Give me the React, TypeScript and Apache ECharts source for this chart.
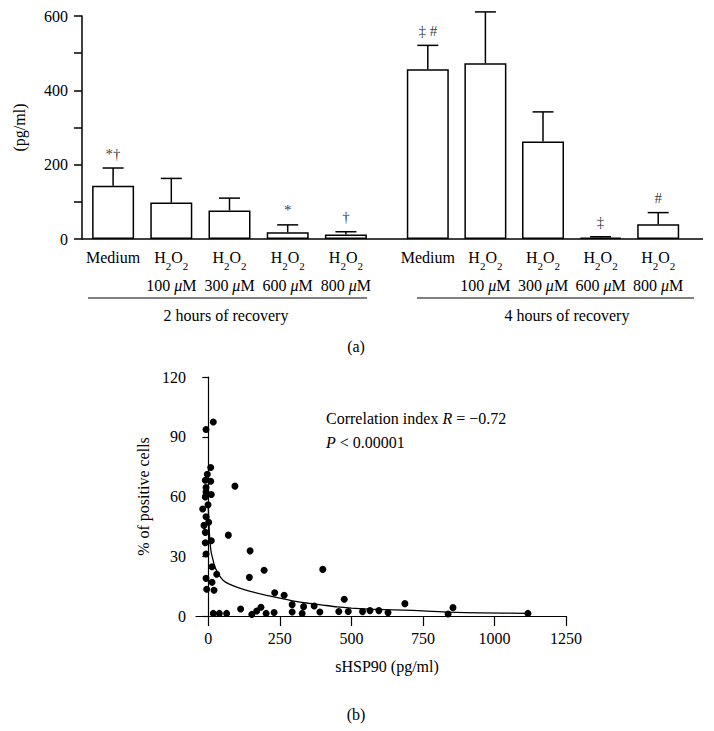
import React, { useEffect, useRef } from 'react';
import * as echarts from 'echarts';

const FONT = 'Liberation Serif, DejaVu Serif, serif';

// ---- Panel (a) ----
const treatments = ['Medium', 'H2O2 100 μM', 'H2O2 300 μM', 'H2O2 600 μM', 'H2O2 800 μM'];
const mean2h = [143, 98, 77, 18, 12];
const upper2h = [191, 163, 110, 38, 19.5];
const marks2h = ['*†', '', '', '*', '†'];
const mean4h = [457, 473, 262, 4, 40];
const upper4h = [521, 611, 342, 6, 71];
const marks4h = ['‡ #', '', '', '‡', '#'];
const groupLabels = ['2 hours of recovery', '4 hours of recovery'];
const panelLabels = ['(a)', '(b)'];

// ---- Panel (b) ----
const scatterX = [
  -8, 17.5, 8.4, -3.5, -10.5, 8.4, -8, -8, -10.5, 10.5, 93, -1, -19.6, -8, 1.4, -15, -10.5, 70, -10.5, 10.5,
  -8, 146, 13, 29.4, 195, 143.5, -8, 13, -5.6, 20, 232, 17.5, 38.5, 64, 113, 152, 169, 184, 202, 230,
  265, 400, 293, 333, 370, 475, 293, 328, 390, 456, 489, 539, 565, 596, 628, 687, 855, 838, 1117,
];
const scatterY = [
  93.6, 97.4, 74.6, 71.2, 68.2, 67.7, 64.5, 62.3, 59.8, 61, 65.2, 55.8, 53.7, 49.8, 47.1, 45.5, 42, 40.6, 36.8, 37.8,
  31.1, 32.7, 24.7, 21, 23, 19.4, 18.9, 16.9, 13.4, 12.9, 11.7, 1.3, 1.3, 1.3, 3.5, 0.8, 2.5, 4.4, 1.3, 1.8,
  10.4, 23.4, 5.7, 4.7, 5, 8.4, 2, 1.3, 2, 2.3, 2.3, 2.2, 2.7, 2.7, 1.7, 6.2, 4.2, 1.0, 1.3,
];
const curveX = [0, 3, 6, 10, 15, 22, 30, 45, 60, 90, 120, 150, 200, 250, 300, 350, 400, 450, 500, 560, 620, 680, 750, 840, 950, 1118];
const curveY = [54, 44, 37, 32, 29, 25, 22.5, 19, 17, 15, 13.5, 12.2, 10.5, 9, 7.5, 6.4, 5.5, 4.6, 4, 3.5, 3.2, 3, 2.6, 1.9, 1.6, 1.3];
const xTicksB = [0, 250, 500, 750, 1000, 1250];
const statLines = ['Correlation index {i|R} = −0.72', '{i|P} < 0.00001'];

const catFormatter = (v: string) => {
  if (v.startsWith('H2O2')) {
    const rest = v.slice(5).replace('μ', '{i|μ}');
    return 'H{s|2}O{s|2}\n' + rest;
  }
  return v;
};

const errorSeries = (axisIdx: number, means: number[], upper: number[]) => ({
  type: 'custom',
  xAxisIndex: axisIdx,
  yAxisIndex: axisIdx,
  z: 5,
  data: means.map((m, i) => [i, m, upper[i]]),
  renderItem: (params: any, api: any) => {
    const i = api.value(0);
    const a = api.coord([i, api.value(1)]);
    const b = api.coord([i, api.value(2)]);
    return {
      type: 'group',
      children: [
        { type: 'line', shape: { x1: a[0], y1: a[1], x2: b[0], y2: b[1] }, style: { stroke: '#000', lineWidth: 1.5 } },
        { type: 'line', shape: { x1: b[0] - 10.5, y1: b[1], x2: b[0] + 10.5, y2: b[1] }, style: { stroke: '#000', lineWidth: 1.5 } },
      ],
    };
  },
});

const markSeries = (axisIdx: number, upper: number[], marks: string[]) => ({
  type: 'scatter',
  xAxisIndex: axisIdx,
  yAxisIndex: axisIdx,
  symbolSize: 0,
  z: 6,
  silent: true,
  data: upper.map((u, i) => [i, u]),
  label: {
    show: true,
    position: 'top',
    distance: 7,
    color: '#000',
    fontFamily: FONT,
    fontSize: 15,
    formatter: (p: any) => marks[p.dataIndex],
  },
});

const catAxis = (gridIndex: number) => ({
  type: 'category',
  gridIndex,
  data: treatments,
  axisLine: { show: false },
  axisTick: { show: false },
  axisLabel: {
    interval: 0,
    margin: 4,
    color: '#000',
    fontFamily: FONT,
    fontSize: 16,
    lineHeight: 28,
    verticalAlign: 'top',
    formatter: catFormatter,
    rich: {
      s: { fontSize: 11, lineHeight: 20, verticalAlign: 'bottom', fontFamily: FONT, color: '#000' },
      i: { fontSize: 16, lineHeight: 28, fontStyle: 'italic', fontFamily: FONT, color: '#000' },
    },
  },
});

export default function App() {
  const ref = useRef<HTMLDivElement>(null);
  useEffect(() => {
    document.body.style.margin = '0';
    const chart = echarts.init(ref.current!, null, { renderer: 'svg' });
    const text = (t: string, x: number, y: number) => ({
      type: 'text',
      x,
      y,
      style: {
        text: t, fill: '#000', fontSize: 16, fontFamily: FONT,
        align: 'center', verticalAlign: 'middle',
      },
    });
    chart.setOption({
      animation: false,
      backgroundColor: '#fff',
      textStyle: { fontFamily: FONT },
      grid: [
        { left: 84, top: 16, width: 291, height: 223 },
        { left: 399, top: 16, width: 288, height: 223 },
        { left: 196, top: 377, width: 370, height: 239 },
      ],
      xAxis: [
        catAxis(0),
        catAxis(1),
        {
          type: 'value',
          gridIndex: 2,
          min: -43,
          max: 1250,
          name: 'sHSP90 (pg/ml)',
          nameLocation: 'middle',
          nameGap: 42,
          nameTextStyle: { color: '#000', fontFamily: FONT, fontSize: 16, padding: [0, 0, 0, 12] },
          splitLine: { show: false },
          axisLine: { lineStyle: { color: '#000', width: 1.2 } },
          axisTick: { show: true, length: 10, lineStyle: { color: '#000', width: 1.2 }, customValues: xTicksB },
          axisLabel: {
            color: '#000', fontFamily: FONT, fontSize: 16, margin: 14, customValues: xTicksB,
            formatter: (v: number) => String(v),
          },
        },
      ],
      yAxis: [
        {
          type: 'value',
          gridIndex: 0,
          min: 0,
          max: 600,
          interval: 100,
          offset: 2,
          name: '(pg/ml)',
          nameLocation: 'middle',
          nameGap: 55,
          nameTextStyle: { color: '#000', fontFamily: FONT, fontSize: 16 },
          splitLine: { show: false },
          axisLine: { show: true, lineStyle: { color: '#000', width: 1.5 } },
          axisTick: { show: true, length: 8, lineStyle: { color: '#000', width: 1.5 } },
          axisLabel: {
            color: '#000', fontFamily: FONT, fontSize: 16, margin: 14,
            formatter: (v: number) => (v % 200 === 0 ? String(v) : ''),
          },
        },
        {
          type: 'value',
          gridIndex: 1,
          min: 0,
          max: 600,
          interval: 100,
          show: false,
          splitLine: { show: false },
        },
        {
          type: 'value',
          gridIndex: 2,
          min: 0,
          max: 120,
          interval: 30,
          name: '% of positive cells',
          nameLocation: 'middle',
          nameGap: 43,
          nameTextStyle: { color: '#000', fontFamily: FONT, fontSize: 16 },
          splitLine: { show: false },
          axisLine: { show: true, lineStyle: { color: '#000', width: 1.2 } },
          axisTick: { show: true, length: 6, lineStyle: { color: '#000', width: 1.2 } },
          axisLabel: { color: '#000', fontFamily: FONT, fontSize: 16, margin: 10 },
        },
      ],
      series: [
        {
          type: 'bar',
          xAxisIndex: 0,
          yAxisIndex: 0,
          data: mean2h,
          barWidth: 42,
          itemStyle: { color: '#fff', borderColor: '#000', borderWidth: 1.5 },
        },
        errorSeries(0, mean2h, upper2h),
        markSeries(0, upper2h, marks2h),
        {
          type: 'bar',
          xAxisIndex: 1,
          yAxisIndex: 1,
          data: mean4h,
          barWidth: 42,
          itemStyle: { color: '#fff', borderColor: '#000', borderWidth: 1.5 },
        },
        errorSeries(1, mean4h, upper4h),
        markSeries(1, upper4h, marks4h),
        {
          type: 'line',
          xAxisIndex: 2,
          yAxisIndex: 2,
          data: curveX.map((x, i) => [x, curveY[i]]),
          showSymbol: false,
          smooth: 0.2,
          lineStyle: { color: '#000', width: 1.3 },
          z: 2,
        },
        {
          type: 'scatter',
          xAxisIndex: 2,
          yAxisIndex: 2,
          data: scatterX.map((x, i) => [x, scatterY[i]]),
          symbolSize: 7,
          itemStyle: { color: '#000', opacity: 1 },
          z: 3,
        },
      ],
      graphic: [
        { type: 'line', shape: { x1: 82, y1: 239, x2: 703, y2: 239 }, style: { stroke: '#000', lineWidth: 1.5 } },
        { type: 'line', shape: { x1: 88, y1: 298, x2: 367, y2: 298 }, style: { stroke: '#000', lineWidth: 1 } },
        { type: 'line', shape: { x1: 417, y1: 298, x2: 694, y2: 298 }, style: { stroke: '#000', lineWidth: 1 } },
        text(groupLabels[0], 226, 315),
        text(groupLabels[1], 567, 315),
        text(panelLabels[0], 356, 346),
        text(panelLabels[1], 356, 714),
        {
          type: 'text',
          x: 326,
          y: 406,
          style: {
            text: statLines.join('\n'),
            fill: '#000',
            fontSize: 16,
            fontFamily: FONT,
            lineHeight: 24,
            rich: {
              i: { fontStyle: 'italic', fontSize: 16, fontFamily: FONT, lineHeight: 24, fill: '#000' },
            },
          },
        },
      ],
    });
    return () => chart.dispose();
  }, []);
  return <div ref={ref} style={{ position: 'absolute', left: 0, top: 0, width: 714, height: 731 }} />;
}
